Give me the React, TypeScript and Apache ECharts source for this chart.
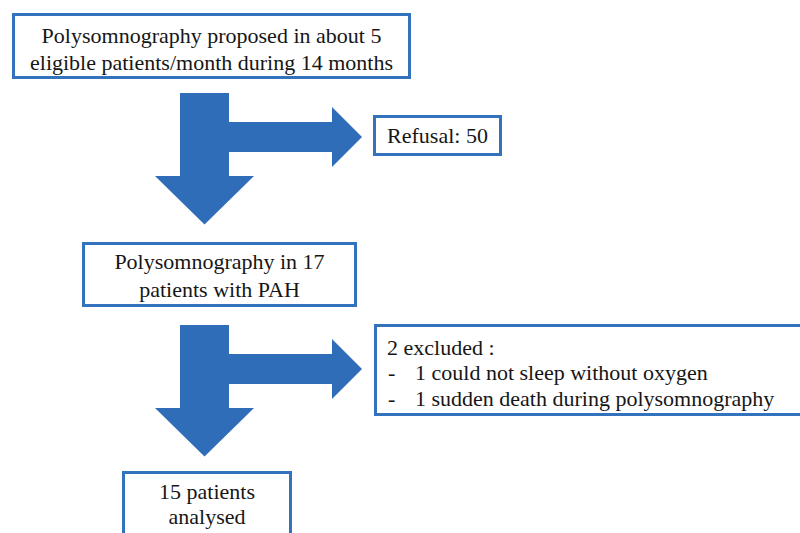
import React, { useEffect, useRef } from "react";
import * as echarts from "echarts";

// ---- content (texts of the flow diagram) ----
const mainSteps: string[][] = [
  ["Polysomnography proposed in about 5", "eligible patients/month during 14 months"],
  ["Polysomnography in 17", "patients with PAH"],
  ["15 patients", "analysed"],
];
const sideHeaders: string[] = ["Refusal: 50", "2 excluded :"];
const sideItems: string[][] = [
  [],
  ["1 could not sleep without oxygen", "1 sudden death during polysomnography"],
];

// ---- layout (pixel space of the 800x533 canvas, mapped through hidden value axes) ----
const mainBoxes = [
  { x0: 12, y0: 13, x1: 411, y1: 79, ty: 49.5, lh: 27 },
  { x0: 82, y0: 242, x1: 357, y1: 307, ty: 276, lh: 28 },
  { x0: 122, y0: 471, x1: 292, y1: 548, ty: 505, lh: 25 },
];
const sideBoxes = [
  { x0: 373, y0: 115, x1: 502, y1: 156, ty: 136, center: true },
  { x0: 374, y0: 324, x1: 812, y1: 416, ty: 348, center: false },
];
const arrowTops = [93, 325];
// arrow template relative to stem top
const arrowShape: number[][] = [
  [180, 0], [229, 0], [229, 29], [332, 29], [332, 14], [362, 44], [332, 74],
  [332, 59], [229, 59], [229, 83], [254, 83], [204.5, 131.5], [155, 83], [180, 83],
];

const BORDER = "#3373BD";
const ARROW = "#2F6DB8";
const TEXT = "#161616";
const FONT = "Liberation Serif";
const FS = 22;

export default function App() {
  const ref = useRef<HTMLDivElement>(null);
  useEffect(() => {
    document.body.style.margin = "0";
    const chart = echarts.init(ref.current!, null, { renderer: "svg" });
    const ctx = document.createElement("canvas").getContext("2d")!;
    ctx.font = `${FS}px "${FONT}"`;
    const measure = (t: string) => ctx.measureText(t).width;

    const rectEl = (api: any, b: any) => {
      const p0 = api.coord([b.x0, b.y0]);
      const p1 = api.coord([b.x1, b.y1]);
      return {
        type: "rect",
        shape: { x: p0[0] + 1.5, y: p0[1] + 1.5, width: p1[0] - p0[0] - 3, height: p1[1] - p0[1] - 3 },
        style: { fill: "#fff", stroke: BORDER, lineWidth: 3 },
      };
    };

    const option: any = {
      animation: false,
      backgroundColor: "#ffffff",
      grid: { left: 0, right: 0, top: 0, bottom: 0 },
      xAxis: { type: "value", min: 0, max: 800, show: false },
      yAxis: { type: "value", min: 0, max: 533, inverse: true, show: false },
      series: [
        {
          type: "custom",
          name: "arrows",
          clip: false,
          z: 1,
          data: arrowTops.map((t) => [0, t]),
          renderItem: (params: any, api: any) => {
            const top = arrowTops[params.dataIndex];
            const pts = arrowShape.map(([x, y]) => api.coord([x, top + y]));
            return { type: "polygon", shape: { points: pts }, style: { fill: ARROW } };
          },
        },
        {
          type: "custom",
          name: "boxes",
          clip: false,
          z: 1,
          data: [...mainBoxes, ...sideBoxes].map((b) => [b.x0, b.y0]),
          renderItem: (params: any, api: any) => {
            const all = [...mainBoxes, ...sideBoxes];
            return rectEl(api, all[params.dataIndex]);
          },
        },
      ],
    };
    chart.setOption(option);

    // texts placed through the same grid scales
    const toPx = (x: number, y: number) => chart.convertToPixel({ gridIndex: 0 }, [x, y]) as number[];
    const texts: any[] = [];
    const addText = (t: string, x: number, y: number, center: boolean) => {
      const p = toPx(x, y);
      const w = measure(t);
      texts.push({
        type: "text",
        x: center ? p[0] - w / 2 : p[0],
        y: p[1] - FS / 2 - 1,
        z: 100,
        zlevel: 0,
        silent: true,
        style: { text: t, fontSize: FS, fontFamily: FONT, fill: TEXT },
      });
    };
    mainBoxes.forEach((b, i) => {
      const lines = mainSteps[i];
      lines.forEach((ln, k) => {
        const dy = (k - (lines.length - 1) / 2) * b.lh;
        addText(ln, (b.x0 + b.x1) / 2, b.ty + dy, true);
      });
    });
    sideBoxes.forEach((b, i) => {
      if (b.center) {
        addText(sideHeaders[i], (b.x0 + b.x1) / 2, b.ty, true);
      } else {
        addText(sideHeaders[i], b.x0 + 13, b.ty, false);
        sideItems[i].forEach((it, k) => {
          addText("-", b.x0 + 14, b.ty + 25.5 * (k + 1), false);
          addText(it, b.x0 + 41, b.ty + 25.5 * (k + 1), false);
        });
      }
    });
    chart.setOption({ graphic: { elements: texts } });
    return () => chart.dispose();
  }, []);
  return (
    <div
      ref={ref}
      style={{ position: "absolute", left: 0, top: 0, width: 800, height: 533 }}
    />
  );
}
